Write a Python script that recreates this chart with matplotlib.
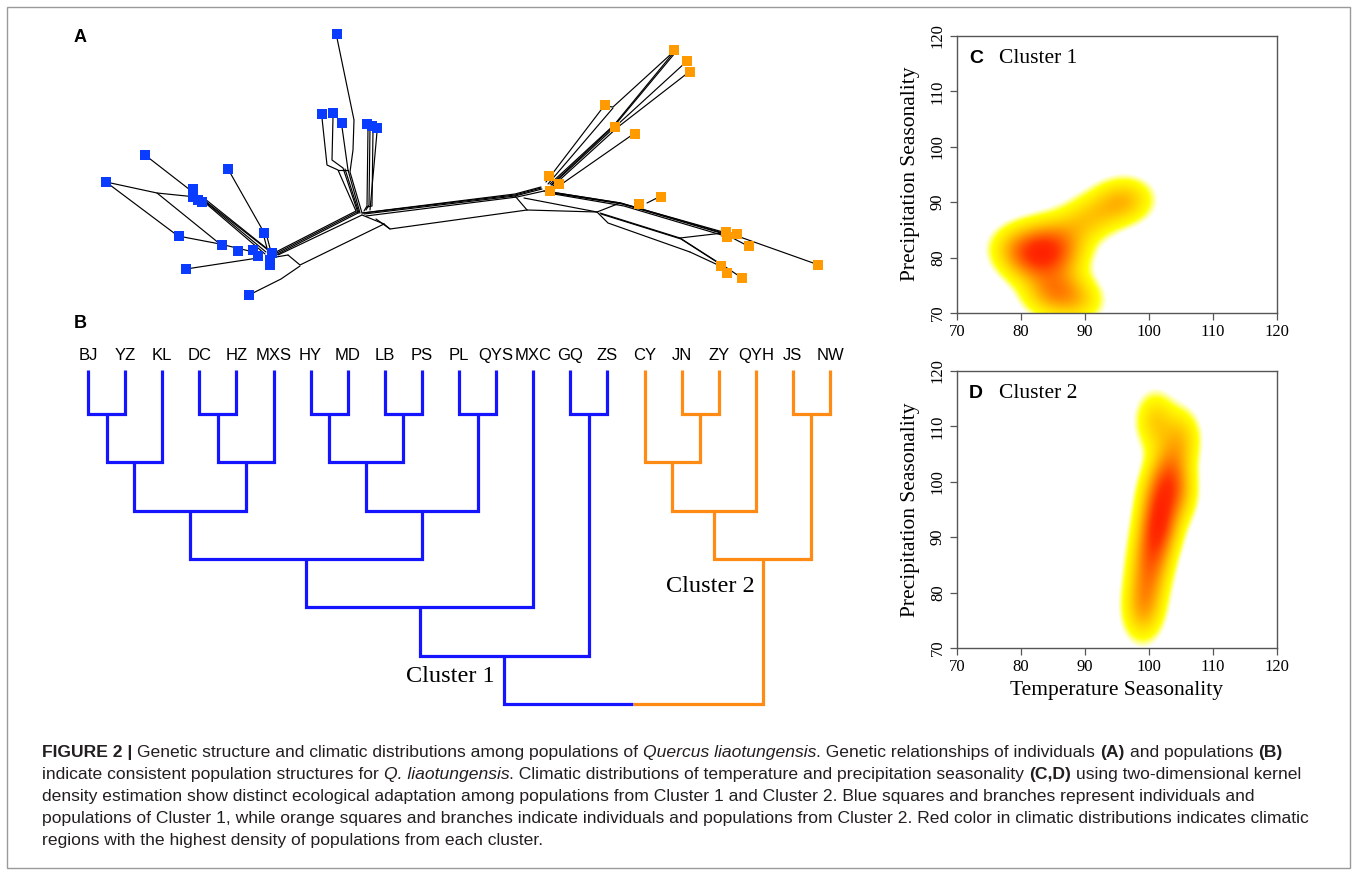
import numpy as np
import matplotlib
matplotlib.use('Agg')
import matplotlib.pyplot as plt
from matplotlib.colors import LinearSegmentedColormap
from matplotlib.font_manager import FontProperties, fontManager
from matplotlib.patches import Rectangle

W, H = 1357, 875

# ---- panel A: individuals (square positions) and network layout ----
blue_x = [336.7, 321.7, 332.7, 341.7, 366.7, 371.7, 376.7, 145, 105.7, 228.3, 193.3, 193.3,
          201.7, 198, 264.3, 179, 222.3, 238.3, 253.3, 257.7, 271.7, 270, 270, 185.7, 249]
blue_y = [34, 114.3, 112.7, 123.3, 124, 126, 128.3, 155, 182.3, 169.3, 189.3, 196.7,
          201.7, 200, 232.7, 236, 245, 251, 250, 256, 253.3, 260, 265, 268.7, 295.3]
orange_x = [674, 687, 690.3, 604.7, 614.7, 635.3, 548.7, 558.7, 550, 638.7, 660.7,
            725.7, 737.3, 726.7, 748.7, 817.7, 720.7, 726.7, 742]
orange_y = [50, 61.3, 72.3, 105, 127.3, 133.7, 175.7, 184, 191, 204, 196.7,
            231.7, 234, 236.7, 246, 264.7, 265.7, 273.3, 277.7]

net_paths = [
    [(106, 182), (157, 193), (196, 197)],
    [(106, 182), (178, 236)],
    [(157, 193), (220, 244)],
    [(178, 236), (220, 244), (262, 254)],
    [(145, 155), (194, 193)],
    [(196, 194), (266, 252)],
    [(200, 197), (268, 250)],
    [(203, 201), (265, 254)],
    [(205, 199), (270, 251)],
    [(228, 169), (262, 229)],
    [(263, 233), (268, 252)],
    [(266, 233), (271, 252)],
    [(186, 269), (258, 258)],
    [(249, 295), (281, 279), (300, 266)],
    [(272, 254), (356, 211)],
    [(273, 255), (357, 212)],
    [(274, 256), (358, 213)],
    [(278, 255), (362, 215)],
    [(288, 255), (300, 265), (384, 224)],
    [(276, 257), (288, 255)],
    [(362, 215), (384, 224)],
    [(356, 211), (338, 170), (327, 165), (322, 118)],
    [(358, 213), (343, 168), (332, 160), (333, 117)],
    [(359, 213), (345, 169)],
    [(360, 213), (348, 170), (342, 127)],
    [(362, 213), (350, 172), (353, 150), (354, 120), (337, 38)],
    [(338, 170), (348, 170)],
    [(364, 211), (367, 206), (368, 128)],
    [(366, 210), (369, 205), (370, 128)],
    [(367, 207), (372, 206), (373, 130)],
    [(370, 210), (377, 132)],
    [(362, 213), (515, 194), (541, 187)],
    [(363, 213), (515, 195), (541, 188)],
    [(364, 214), (515, 196), (542, 189)],
    [(366, 216), (517, 197), (544, 191)],
    [(384, 224), (390, 229), (527, 210)],
    [(376, 219), (390, 229)],
    [(515, 196), (527, 210)],
    [(527, 210), (597, 212), (608, 223), (690, 252)],
    [(524, 198), (597, 212)],
    [(597, 212), (620, 203)],
    [(546, 182), (604, 106), (613, 107), (670, 55)],
    [(548, 184), (613, 108)],
    [(550, 184), (614, 125), (674, 52)],
    [(551, 185), (615, 125), (675, 53)],
    [(552, 185), (616, 126), (686, 62)],
    [(553, 186), (618, 127), (689, 72)],
    [(556, 188), (632, 135)],
    [(544, 191), (620, 203), (723, 232)],
    [(545, 191), (621, 203), (723, 233)],
    [(546, 192), (622, 204), (724, 234)],
    [(548, 193), (624, 206), (725, 236)],
    [(647, 203), (659, 197)],
    [(680, 238), (723, 233)],
    [(600, 213), (680, 238), (719, 263)],
    [(601, 214), (681, 239), (720, 264)],
    [(690, 252), (718, 265)],
    [(723, 233), (748, 246)],
    [(740, 237), (816, 264)],
    [(719, 263), (727, 273)],
    [(721, 264), (742, 278)],
]

# ---- panel B: population dendrogram ----
leaves = ['BJ', 'YZ', 'KL', 'DC', 'HZ', 'MXS', 'HY', 'MD', 'LB', 'PS', 'PL', 'QYS',
          'MXC', 'GQ', 'ZS', 'CY', 'JN', 'ZY', 'QYH', 'JS', 'NW']
cluster2_leaves = ['CY', 'JN', 'ZY', 'QYH', 'JS', 'NW']
# (left child, right child, height); new nodes numbered from len(leaves)
merges = [(0, 1, 1), (21, 2, 2), (3, 4, 1), (23, 5, 2), (22, 24, 3),
          (6, 7, 1), (8, 9, 1), (26, 27, 2), (10, 11, 1), (28, 29, 3),
          (25, 30, 4), (31, 12, 5), (13, 14, 1), (32, 33, 6),
          (16, 17, 1), (15, 35, 2), (36, 18, 3), (19, 20, 1), (37, 38, 4),
          (34, 39, 7)]
leaf_height = 0.09

# ---- panels C, D: climate of populations (temperature, precipitation seasonality) ----
c1_temp = [80, 82, 82, 84, 85, 86, 83, 79, 87, 89, 92, 95, 97, 85, 87, 89, 84]
c1_prec = [80, 78, 83, 81, 84, 79, 80.5, 82, 82, 86, 88, 90, 90.5, 75, 73.5, 72, 73]
c2_temp = [99, 99.5, 100, 100.5, 101, 101.5, 102, 101.5, 102.5, 103.5, 101, 105, 104.5]
c2_prec = [76, 80, 84, 87, 90, 92, 94, 97, 100, 103, 111, 108, 98]

blue = '#0a3cff'
orange = '#ff9a00'
tree_blue = '#1414ff'
tree_orange = '#ff8a14'

installed = {f.name for f in fontManager.ttflist}
narrow = 'Liberation Sans Narrow' if 'Liberation Sans Narrow' in installed else 'Liberation Sans'
serif = 'Liberation Serif'
sans = 'Liberation Sans'

fig = plt.figure(figsize=(W / 100, H / 100), dpi=100)


def px_axes(x0, y0, x1, y1):
    return fig.add_axes([x0 / W, 1 - y1 / H, (x1 - x0) / W, (y1 - y0) / H])


# overlay in pixel coordinates for frame and free text
ov = px_axes(0, 0, W, H)
ov.set_xlim(0, W)
ov.set_ylim(H, 0)
ov.axis('off')
ov.add_patch(Rectangle((7, 7), 1343, 861, fill=False, ec='#9a9a9a', lw=1.0))

# ---------------- A ----------------
axA = px_axes(60, 15, 880, 310)
axA.set_xlim(60, 880)
axA.set_ylim(310, 15)
axA.axis('off')
for path in net_paths:
    xs, ys = zip(*path)
    axA.plot(xs, ys, color='black', lw=0.85, solid_capstyle='round')
axA.plot(blue_x, blue_y, 's', ms=7.6, mew=0, color=blue, zorder=3)
axA.plot(orange_x, orange_y, 's', ms=7.6, mew=0, color=orange, zorder=3)
ov.text(80, 37, 'A', fontsize=13, fontweight='bold', family=sans, ha='center', va='center')

# ---------------- B ----------------
axB = px_axes(60, 335, 860, 720)
axB.set_xlim((60 - 88) / 37.1, (860 - 88) / 37.1)
axB.set_ylim((720 - 365.7) / 48.3, (335 - 365.7) / 48.3)
axB.axis('off')

n = len(leaves)
node_x = {i: float(i) for i in range(n)}
node_h = {i: leaf_height for i in range(n)}
node_c = {i: (tree_orange if leaves[i] in cluster2_leaves else tree_blue) for i in range(n)}
for k, (a, b, h) in enumerate(merges):
    idx = n + k
    node_x[idx] = (node_x[a] + node_x[b]) / 2
    node_h[idx] = h
    lw = 2.3
    if node_c[a] == node_c[b]:
        node_c[idx] = node_c[a]
        axB.plot([node_x[a], node_x[a], node_x[b], node_x[b]],
                 [node_h[a], h, h, node_h[b]], color=node_c[a], lw=lw,
                 solid_joinstyle='miter', solid_capstyle='butt')
    else:
        node_c[idx] = 'k'
        mid = node_x[idx]
        axB.plot([node_x[a], node_x[a], mid], [node_h[a], h, h], color=node_c[a], lw=lw,
                 solid_joinstyle='miter', solid_capstyle='butt')
        axB.plot([mid, node_x[b], node_x[b]], [h, h, node_h[b]], color=node_c[b], lw=lw,
                 solid_joinstyle='miter', solid_capstyle='butt')
for i, name in enumerate(leaves):
    axB.text(i, -0.22, name, ha='center', va='center', fontsize=12, family=narrow)

ov.text(80, 324, 'B', fontsize=13, fontweight='bold', family=sans, ha='center', va='center')
ov.text(450, 676, 'Cluster 1', fontsize=17.5, family=serif, ha='center', va='center')
ov.text(710, 586, 'Cluster 2', fontsize=17.5, family=serif, ha='center', va='center')

# ---------------- C, D ----------------
heat = LinearSegmentedColormap.from_list(
    'heat', [(0, 'white'), (0.06, 'white'), (0.14, '#ffff00'), (0.32, '#ffd000'),
             (0.6, '#ff8000'), (0.88, '#ff3300'), (1.0, '#ff2200')])

gx = np.linspace(70, 120, 300)
gy = np.linspace(70, 120, 300)
GX, GY = np.meshgrid(gx, gy)


def kde(tx, ty, bx, by):
    z = np.zeros_like(GX)
    for xi, yi in zip(tx, ty):
        z += np.exp(-0.5 * ((GX - xi) / bx) ** 2 - 0.5 * ((GY - yi) / by) ** 2)
    return z / z.max()


def climate_panel(ax, dens, letter, title, ypix, show_xlabel):
    ax.imshow(dens, extent=(70, 120, 70, 120), origin='lower', cmap=heat, vmin=0, vmax=1,
              aspect='auto', interpolation='bilinear')
    ax.set_xlim(70, 120)
    ax.set_ylim(70, 120)
    ax.set_xticks([70, 80, 90, 100, 110, 120])
    ax.set_yticks([70, 80, 90, 100, 110, 120])
    for s in ax.spines.values():
        s.set_color('#555555')
        s.set_linewidth(1.0)
    ax.tick_params(length=5, width=0.9, color='#555555', pad=3, labelsize=12)
    ax.tick_params(axis='y', labelrotation=90)
    for lab in ax.get_xticklabels() + ax.get_yticklabels():
        lab.set_family(serif)
    for lab in ax.get_yticklabels():
        lab.set_va('center')
    ax.text(0.06, 0.92, letter, transform=ax.transAxes, fontsize=14, fontweight='bold',
            family=sans, ha='center', va='center')
    ax.text(0.13, 0.92, title, transform=ax.transAxes, fontsize=15.5, family=serif,
            ha='left', va='center')
    ov.text(910, ypix, 'Precipitation Seasonality', rotation=90, fontsize=15.5, family=serif,
            ha='center', va='center')
    if show_xlabel:
        ov.text(1117, 691, 'Temperature Seasonality', fontsize=15.5, family=serif,
                ha='center', va='center')


axC = px_axes(957, 36, 1277, 313)
climate_panel(axC, kde(c1_temp, c1_prec, 2.7, 2.6), 'C', 'Cluster 1', 174, False)
axD = px_axes(957, 371, 1277, 648)
climate_panel(axD, kde(c2_temp, c2_prec, 2.0, 3.4), 'D', 'Cluster 2', 510, True)

# ---------------- caption ----------------
caption = [
    [('FIGURE 2 |', 'bold', 'normal'),
     (' Genetic structure and climatic distributions among populations of ', 'normal', 'normal'),
     ('Quercus liaotungensis', 'normal', 'italic'),
     ('. Genetic relationships of individuals ', 'normal', 'normal'),
     ('(A)', 'bold', 'normal'), (' and populations ', 'normal', 'normal'), ('(B)', 'bold', 'normal')],
    [('indicate consistent population structures for ', 'normal', 'normal'),
     ('Q. liaotungensis', 'normal', 'italic'),
     ('. Climatic distributions of temperature and precipitation seasonality ', 'normal', 'normal'),
     ('(C,D)', 'bold', 'normal'), (' using two-dimensional kernel', 'normal', 'normal')],
    [('density estimation show distinct ecological adaptation among populations from Cluster 1 and '
      'Cluster 2. Blue squares and branches represent individuals and', 'normal', 'normal')],
    [('populations of Cluster 1, while orange squares and branches indicate individuals and '
      'populations from Cluster 2. Red color in climatic distributions indicates climatic',
      'normal', 'normal')],
    [('regions with the highest density of populations from each cluster.', 'normal', 'normal')],
]
baselines = [757, 779, 801, 823, 845]
line_targets = {0: 1261, 1: 1274, 2: 1230, 3: 1270}

renderer = fig.canvas.get_renderer()


def text_w(s, size, weight, style):
    fp = FontProperties(family=narrow, size=size, weight=weight, style=style)
    a = renderer.get_text_width_height_descent('|' + s + '|', fp, ismath=False)[0]
    b = renderer.get_text_width_height_descent('||', fp, ismath=False)[0]
    return a - b


base = 10.0
cap_size = min(base * tgt / sum(text_w(s, base, wt, st) for s, wt, st in caption[i])
               for i, tgt in line_targets.items())

for line, yb in zip(caption, baselines):
    x = 42
    for s, wt, st in line:
        lead = len(s) - len(s.lstrip(' '))
        xd = x + (text_w(' ' * lead, cap_size, wt, st) if lead else 0)
        ov.text(xd, yb, s.strip(' '), fontsize=cap_size, family=narrow, fontweight=wt,
                fontstyle=st, color='#231f20', ha='left', va='baseline')
        x += text_w(s, cap_size, wt, st)

fig.savefig('out.png', dpi=100)
